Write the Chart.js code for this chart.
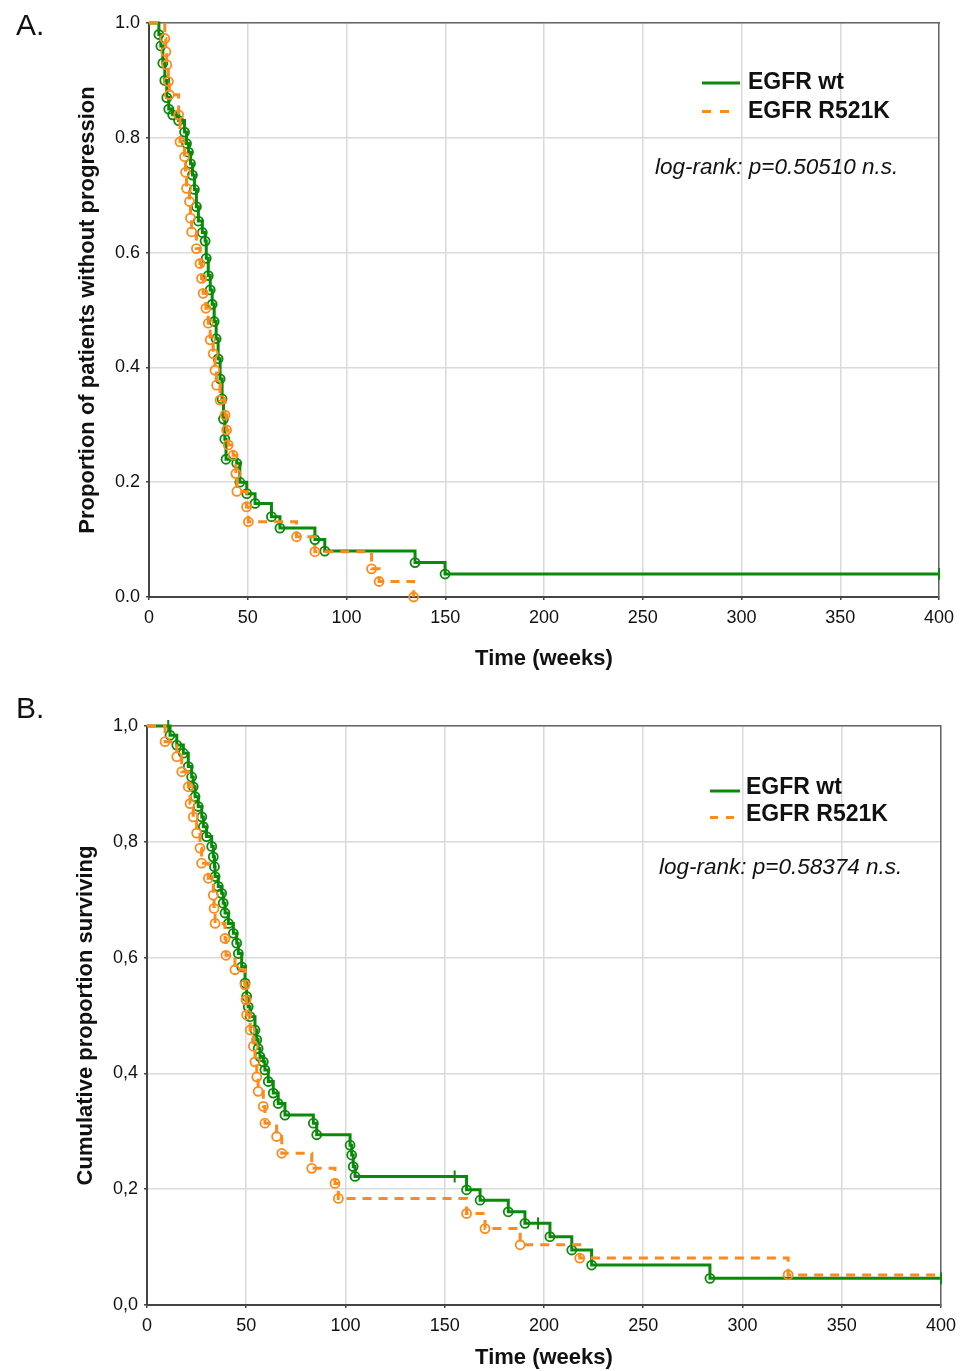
<!DOCTYPE html>
<html>
<head>
<meta charset="utf-8">
<script src="https://cdn.jsdelivr.net/npm/chart.js@4.4.1/dist/chart.umd.min.js"></script>
<style>
  html, body { margin: 0; padding: 0; background: #fff; }
  #page { position: relative; width: 963px; height: 1371px; overflow: hidden; }
  canvas { position: absolute; left: 0; }
  #chartA { top: 0; }
  #chartB { top: 690px; }
  .panel { position: absolute; left: 16px; font: 30px "Liberation Sans", Arial, sans-serif; color: #111; line-height: 34px; }
</style>
</head>
<body>
<div id="page">
  <canvas id="chartA" width="963" height="680"></canvas>
  <canvas id="chartB" width="963" height="681"></canvas>
  <div class="panel" style="top:8px">A.</div>
  <div class="panel" style="top:691px">B.</div>
</div>
<script>
// ---- data (weeks, proportion) ----
const seriesLabels = ['EGFR wt', 'EGFR R521K'];
const weekTicks = [0, 50, 100, 150, 200, 250, 300, 350, 400];
const propTicks = [0, 0.2, 0.4, 0.6, 0.8, 1.0];
const propLabelsA = ['0.0', '0.2', '0.4', '0.6', '0.8', '1.0'];
const propLabelsB = ['0,0', '0,2', '0,4', '0,6', '0,8', '1,0'];

// A: progression-free
const aWtTime = [0, 5, 6, 7, 8, 9, 10, 12, 15, 18, 19, 20, 21, 22, 23, 24, 25, 27, 28.4, 29, 30,
  31, 32, 33, 34, 35, 36, 37, 37.7, 38.4, 39, 44.4, 46, 49.5, 53.7, 62, 66.3, 84, 89, 134.7, 149.9, 400];
const aWtSurv = [1.0, 0.98, 0.96, 0.93, 0.90, 0.87, 0.85, 0.84, 0.83, 0.81, 0.79, 0.775, 0.755, 0.735, 0.71, 0.68, 0.655, 0.635, 0.62, 0.59, 0.56,
  0.535, 0.51, 0.48, 0.45, 0.415, 0.38, 0.345, 0.31, 0.275, 0.24, 0.233, 0.20, 0.18, 0.163, 0.14, 0.12, 0.10, 0.08, 0.06, 0.04, 0.04];
const aWtCens = [400];
const aMutTime = [0, 8, 8.5, 9, 9.8, 10.3, 15, 15.7, 18, 18.5, 19, 20.5, 21, 21.6, 24, 25.8, 26.6, 27.4, 28.8,
  30, 31, 32.5, 33.4, 34.2, 36, 38.5, 39.3, 40.1, 42.6, 44, 44.5, 49.4, 50.3, 74.7, 84, 112.7, 116.5, 134];
const aMutSurv = [1.0, 0.973, 0.95, 0.927, 0.898, 0.875, 0.84, 0.793, 0.767, 0.74, 0.712, 0.689, 0.66, 0.636, 0.607, 0.581, 0.555, 0.529, 0.503,
  0.477, 0.448, 0.424, 0.395, 0.369, 0.343, 0.317, 0.291, 0.265, 0.247, 0.215, 0.184, 0.157, 0.131, 0.105, 0.079, 0.049, 0.027, 0.0];

// B: overall survival
const bWtTime = [0, 10.7, 11.6, 15, 18.3, 20.8, 22.5, 23.3, 24.2, 25.8, 27.6, 28.4, 30, 32.6, 33.4, 34, 34.3, 35.9, 37.6, 38.4,
  39.3, 41, 43.5, 45.2, 46, 47.7, 49.4, 50.2, 51, 51.9, 54.4, 55.3, 56, 56.9, 58.6, 59.4, 61.1, 63.6, 66.1, 69.5,
  83.8, 85.5, 102.3, 103.1, 103.9, 104.8, 155, 161, 167.8, 182, 190.4, 197, 203, 214, 224, 283.6, 400];
const bWtSurv = [1.0, 1.0, 0.984, 0.967, 0.953, 0.93, 0.912, 0.895, 0.878, 0.861, 0.843, 0.826, 0.809, 0.792, 0.774, 0.757, 0.74, 0.723, 0.711, 0.694,
  0.677, 0.659, 0.642, 0.625, 0.607, 0.584, 0.556, 0.533, 0.515, 0.498, 0.475, 0.458, 0.443, 0.429, 0.42, 0.406, 0.386, 0.366, 0.348, 0.328,
  0.314, 0.294, 0.276, 0.259, 0.239, 0.222, 0.222, 0.199, 0.181, 0.161, 0.141, 0.141, 0.118, 0.095, 0.069, 0.046, 0.046];
const bWtCens = [10.7, 155, 197, 400];
const bMutTime = [0, 9.1, 15, 17.5, 20.8, 21.7, 23.3, 25, 26.7, 27.5, 30.9, 33.4, 33.8, 34.3, 39.3, 39.8, 44.3, 49.4, 49.9,
  50.2, 52, 53.6, 54.4, 55.3, 56, 58.6, 59.4, 65.3, 67.9, 83, 94.7, 96.4, 161, 170.3, 188, 218, 323, 400];
const bMutSurv = [1.0, 0.973, 0.947, 0.921, 0.895, 0.866, 0.843, 0.815, 0.789, 0.763, 0.737, 0.708, 0.685, 0.659, 0.633, 0.604, 0.579, 0.553, 0.527,
  0.501, 0.475, 0.447, 0.42, 0.394, 0.369, 0.343, 0.314, 0.291, 0.262, 0.236, 0.21, 0.184, 0.158, 0.132, 0.104, 0.081, 0.052, 0.052];

const GREEN = '#0a8a0a';
const ORANGE = '#ff8a1c';
const FONT = '"Liberation Sans", Arial, sans-serif';

// legend + log-rank note drawn inside the plot
const kmNotes = {
  id: 'kmNotes',
  afterDraw(chart, args, o) {
    const ctx = chart.ctx;
    ctx.save();
    ctx.textBaseline = 'middle';
    ctx.fillStyle = '#111';
    ctx.font = 'bold 23px ' + FONT;
    seriesLabels.forEach((lab, i) => {
      const y = o.rows[i];
      ctx.strokeStyle = i === 0 ? GREEN : ORANGE;
      ctx.lineWidth = 3;
      ctx.setLineDash(i === 0 ? [] : [o.dash, o.dash]);
      ctx.beginPath();
      ctx.moveTo(o.x, y + o.lineDy);
      ctx.lineTo(o.x + (i === 0 ? o.lineLen : o.dash * 3), y + o.lineDy);
      ctx.stroke();
      ctx.fillText(lab, o.textX, y);
    });
    ctx.setLineDash([]);
    ctx.font = 'italic 22.5px ' + FONT;
    ctx.fillText(o.pText, o.pX, o.pY);
    ctx.restore();
  }
};

function kmSet(label, times, surv, cens, color, dashed) {
  const last = times.length - 1;
  const isCens = i => i > 0 && cens.includes(times[i]);
  // first point and an uncensored end-of-axis point carry no marker
  const noMark = i => i === 0 || (i === last && times[i] === 400 && !isCens(i));
  return {
    label,
    data: times.map((t, i) => ({ x: t, y: surv[i] })),
    stepped: true,
    borderColor: color,
    borderWidth: 3,
    borderDash: dashed ? [9, 7] : [],
    fill: false,
    clip: 8,
    order: dashed ? 0 : 1,
    pointStyle: c => isCens(c.dataIndex) ? 'line' : 'circle',
    rotation: c => isCens(c.dataIndex) ? 90 : 0,
    pointRadius: c => noMark(c.dataIndex) ? 0 : (isCens(c.dataIndex) ? 6 : 4.5),
    pointBorderWidth: c => isCens(c.dataIndex) ? 2 : 1.8,
    pointBorderColor: color,
    pointBackgroundColor: 'rgba(255,255,255,0)'
  };
}

function kmChart(id, sets, cfg) {
  const tickFont = { size: 18, family: FONT };
  return new Chart(document.getElementById(id), {
    type: 'line',
    data: { datasets: sets },
    options: {
      responsive: false,
      animation: false,
      devicePixelRatio: 1,
      layout: { padding: { left: 0, top: cfg.top, right: cfg.right, bottom: 0 } },
      plugins: { legend: { display: false }, tooltip: { enabled: false }, kmNotes: cfg.notes },
      scales: {
        x: {
          type: 'linear', position: 'bottom', min: 0, max: 400,
          afterBuildTicks: s => { s.ticks = weekTicks.map(v => ({ value: v })); },
          afterFit: s => { s.height = cfg.xH; },
          ticks: { font: tickFont, color: '#111', padding: 7, maxRotation: 0, autoSkip: false },
          grid: { color: '#dadada', lineWidth: 1.5, tickLength: 3, tickColor: '#444' },
          border: { color: '#444', width: 2 },
          title: { display: true, text: 'Time (weeks)', color: '#111',
            font: { size: 22, weight: 'bold', family: FONT }, padding: { top: 0, bottom: cfg.xTitlePad } }
        },
        y: {
          type: 'linear', position: 'left', min: 0, max: 1,
          afterBuildTicks: s => { s.ticks = propTicks.map(v => ({ value: v })); },
          afterFit: s => { s.width = cfg.yW; },
          ticks: { font: tickFont, color: '#111', padding: 6, callback: (v, i) => cfg.yLabels[i] },
          grid: { color: '#dadada', lineWidth: 1.5, tickLength: 3, tickColor: '#444' },
          border: { color: '#444', width: 2 },
          title: { display: true, text: cfg.yTitle, color: '#111',
            font: { size: 22, weight: 'bold', family: FONT }, padding: { top: cfg.yTitlePad, bottom: 0 } }
        },
        x2: {
          type: 'linear', position: 'top', min: 0, max: 400,
          afterFit: s => { s.height = 0; },
          ticks: { display: false },
          grid: { display: true, drawOnChartArea: false, drawTicks: false },
          border: { color: '#666', width: 1.5 }
        },
        y2: {
          type: 'linear', position: 'right', min: 0, max: 1,
          afterFit: s => { s.width = 0; },
          ticks: { display: false },
          grid: { display: true, drawOnChartArea: false, drawTicks: false },
          border: { color: '#666', width: 1.5 }
        }
      }
    },
    plugins: [kmNotes]
  });
}

kmChart('chartA', [
  kmSet(seriesLabels[0], aWtTime, aWtSurv, aWtCens, GREEN, false),
  kmSet(seriesLabels[1], aMutTime, aMutSurv, [], ORANGE, true)
], {
  top: 23, right: 24, xH: 83, yW: 149, xTitlePad: 8, yTitlePad: 75,
  yTitle: 'Proportion of patients without progression', yLabels: propLabelsA,
  notes: { x: 702, textX: 748, rows: [83, 111.5], lineDy: 0, lineLen: 38, dash: 9,
    pX: 655, pY: 168, pText: 'log-rank: p=0.50510 n.s.' }
});

kmChart('chartB', [
  kmSet(seriesLabels[0], bWtTime, bWtSurv, bWtCens, GREEN, false),
  kmSet(seriesLabels[1], bMutTime, bMutSurv, [], ORANGE, true)
], {
  top: 36, right: 22, xH: 66, yW: 147, xTitlePad: 0, yTitlePad: 73,
  yTitle: 'Cumulative proportion surviving', yLabels: propLabelsB,
  notes: { x: 710, textX: 746, rows: [98, 124.5], lineDy: 3, lineLen: 30, dash: 8,
    pX: 659, pY: 178, pText: 'log-rank: p=0.58374 n.s.' }
});
</script>
</body>
</html>
